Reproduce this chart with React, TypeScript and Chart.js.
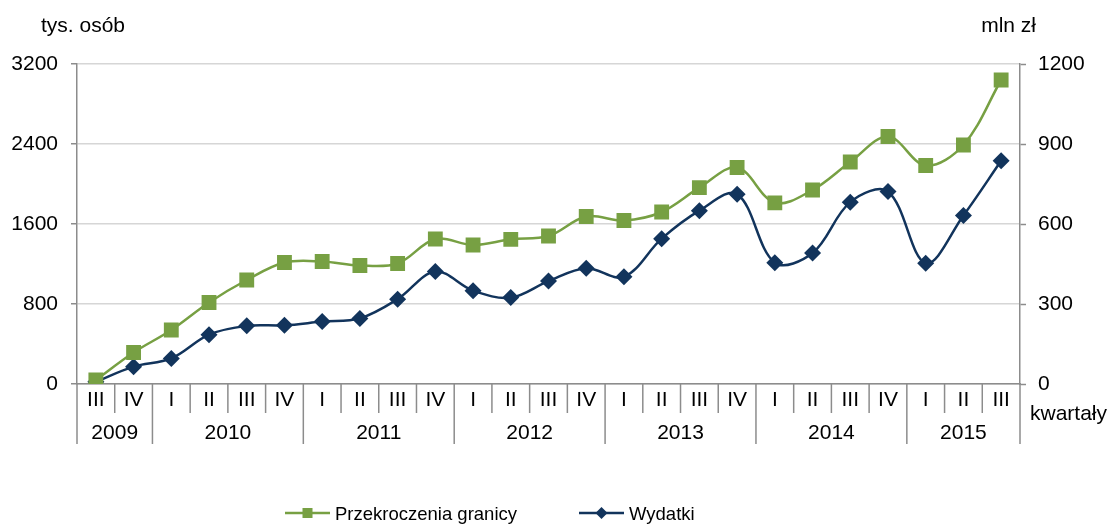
import React, { useEffect, useRef } from 'react';
import { Chart, registerables } from 'chart.js';

Chart.register(...registerables);

// ---- data ----
const quarterLabels = [
  'III', 'IV',
  'I', 'II', 'III', 'IV',
  'I', 'II', 'III', 'IV',
  'I', 'II', 'III', 'IV',
  'I', 'II', 'III', 'IV',
  'I', 'II', 'III', 'IV',
  'I', 'II', 'III',
];
const yearLabels = ['2009', '2010', '2011', '2012', '2013', '2014', '2015'];
const quartersPerYear = [2, 4, 4, 4, 4, 4, 3];

// Przekroczenia granicy (tys. osób) – left axis
const crossings = [
  40, 315,
  540, 815, 1040, 1215,
  1225, 1185, 1205, 1450,
  1390, 1447, 1480, 1675,
  1635, 1720, 1963, 2165,
  1812, 1940, 2220, 2475,
  2185, 2390, 3040,
];
// Wydatki (mln zł) – right axis
const spending = [
  8, 65,
  96, 185, 218, 220,
  234, 246, 318, 422,
  350, 324, 386, 434,
  402, 545, 650, 712,
  455, 491, 682, 722,
  453, 632, 837,
];

const leftAxisMax = 3200;
const leftAxisStep = 800;
const rightAxisMax = 1200;
const rightAxisStep = 300;

const seriesNames = ['Przekroczenia granicy', 'Wydatki'];
const leftUnit = 'tys. osób';
const rightUnit = 'mln zł';
const xUnit = 'kwartały';

// ---- styles ----
const FONT = '"Liberation Sans", Arial, Helvetica, sans-serif';
const GREEN = '#77A043';
const BLUE = '#12345C';
const AXIS = '#8C8C8C';
const GRID = '#D6D6D6';
const TEXT = '#000000';
const AXIS_FONT_SIZE = 21;

function drawSquare(ctx: CanvasRenderingContext2D, x: number, y: number, s: number, color: string) {
  ctx.fillStyle = color;
  ctx.fillRect(x - s / 2, y - s / 2, s, s);
}
function drawDiamond(ctx: CanvasRenderingContext2D, x: number, y: number, r: number, color: string) {
  ctx.fillStyle = color;
  ctx.beginPath();
  ctx.moveTo(x, y - r);
  ctx.lineTo(x + r, y);
  ctx.lineTo(x, y + r);
  ctx.lineTo(x - r, y);
  ctx.closePath();
  ctx.fill();
}

const decorPlugin = {
  id: 'decor',
  afterDraw(chart: any) {
    const { ctx, chartArea, scales } = chart;
    const xs = scales.x;
    const n = quarterLabels.length;
    const step = (xs.right - xs.left) / n;
    const bottom = chartArea.bottom;
    ctx.save();

    // boundaries between quarters / years
    const yearBounds: number[] = [0];
    quartersPerYear.forEach((q) => yearBounds.push(yearBounds[yearBounds.length - 1] + q));
    ctx.strokeStyle = AXIS;
    ctx.lineWidth = 1.5;
    for (let i = 0; i <= n; i++) {
      const px = xs.left + i * step;
      const isYear = yearBounds.includes(i);
      ctx.beginPath();
      ctx.moveTo(px, bottom);
      ctx.lineTo(px, bottom + (isYear ? 60 : 29));
      ctx.stroke();
    }

    // year labels
    ctx.fillStyle = TEXT;
    ctx.font = `${AXIS_FONT_SIZE}px ${FONT}`;
    ctx.textAlign = 'center';
    ctx.textBaseline = 'alphabetic';
    for (let k = 0; k < yearLabels.length; k++) {
      const a = xs.left + yearBounds[k] * step;
      const b = xs.left + yearBounds[k + 1] * step;
      ctx.fillText(yearLabels[k], (a + b) / 2, bottom + 55);
    }

    // unit labels
    ctx.textAlign = 'left';
    ctx.fillText(leftUnit, 41, 32);
    ctx.textAlign = 'right';
    ctx.fillText(rightUnit, 1036, 32);
    ctx.textAlign = 'left';
    ctx.fillText(xUnit, 1030, bottom + 36);

    // legend
    const ly = 513;
    ctx.font = `18.5px ${FONT}`;
    ctx.lineWidth = 2.5;
    const items = [
      { x: 285, color: GREEN, square: true, label: seriesNames[0] },
      { x: 579, color: BLUE, square: false, label: seriesNames[1] },
    ];
    items.forEach((it) => {
      ctx.strokeStyle = it.color;
      ctx.beginPath();
      ctx.moveTo(it.x, ly);
      ctx.lineTo(it.x + 45, ly);
      ctx.stroke();
      if (it.square) drawSquare(ctx, it.x + 22.5, ly, 10, it.color);
      else drawDiamond(ctx, it.x + 22.5, ly, 6, it.color);
      ctx.fillStyle = TEXT;
      ctx.textAlign = 'left';
      ctx.textBaseline = 'alphabetic';
      ctx.fillText(it.label, it.x + 50, ly + 6.5);
    });

    ctx.restore();
  },
};

export default function App() {
  const canvasRef = useRef<HTMLCanvasElement | null>(null);

  useEffect(() => {
    const canvas = canvasRef.current;
    if (!canvas) return;
    const chart = new Chart(canvas, {
      type: 'line',
      data: {
        labels: quarterLabels,
        datasets: [
          {
            label: seriesNames[0],
            data: crossings,
            yAxisID: 'y',
            borderColor: GREEN,
            backgroundColor: GREEN,
            borderWidth: 2.5,
            pointStyle: 'rect',
            pointRadius: 10.5,
            pointBorderWidth: 0,
            pointBackgroundColor: GREEN,
            tension: 0.35,
          },
          {
            label: seriesNames[1],
            data: spending,
            yAxisID: 'y1',
            borderColor: BLUE,
            backgroundColor: BLUE,
            borderWidth: 2.5,
            pointStyle: 'rectRot',
            pointRadius: 8.5,
            pointBorderWidth: 0,
            pointBackgroundColor: BLUE,
            tension: 0.35,
          },
        ],
      },
      plugins: [decorPlugin],
      options: {
        animation: false,
        responsive: true,
        maintainAspectRatio: false,
        layout: { padding: { top: 64, left: 0, right: 0, bottom: 0 } },
        plugins: {
          legend: { display: false },
          tooltip: { enabled: false },
          title: { display: false },
        },
        scales: {
          x: {
            type: 'category',
            offset: true,
            grid: { display: false, drawTicks: false },
            border: { display: true, color: AXIS, width: 1.5 },
            ticks: {
              autoSkip: false,
              maxRotation: 0,
              padding: 4,
              color: TEXT,
              font: { family: FONT, size: AXIS_FONT_SIZE },
            },
            afterFit: (s: any) => {
              s.height = 140;
            },
          },
          y: {
            position: 'left',
            min: 0,
            max: leftAxisMax,
            ticks: {
              stepSize: leftAxisStep,
              padding: 13,
              color: TEXT,
              font: { family: FONT, size: AXIS_FONT_SIZE },
              callback: (v: any) => String(v),
            },
            grid: {
              color: GRID,
              lineWidth: 1.5,
              tickLength: 6,
              tickColor: AXIS,
              tickWidth: 1.5,
            },
            border: { display: true, color: AXIS, width: 1.5 },
            afterFit: (s: any) => {
              s.width = 77;
            },
          },
          y1: {
            position: 'right',
            min: 0,
            max: rightAxisMax,
            ticks: {
              stepSize: rightAxisStep,
              padding: 12,
              color: TEXT,
              font: { family: FONT, size: AXIS_FONT_SIZE },
              callback: (v: any) => String(v),
            },
            grid: {
              drawOnChartArea: false,
              tickLength: 6,
              tickColor: AXIS,
              tickWidth: 1.5,
            },
            border: { display: true, color: AXIS, width: 1.5 },
            afterFit: (s: any) => {
              s.width = 90;
            },
          },
        },
      },
    });
    return () => chart.destroy();
  }, []);

  return (
    <div style={{ position: 'fixed', left: 0, top: 0, width: 1110, height: 524, background: '#fff' }}>
      <canvas ref={canvasRef} />
    </div>
  );
}
